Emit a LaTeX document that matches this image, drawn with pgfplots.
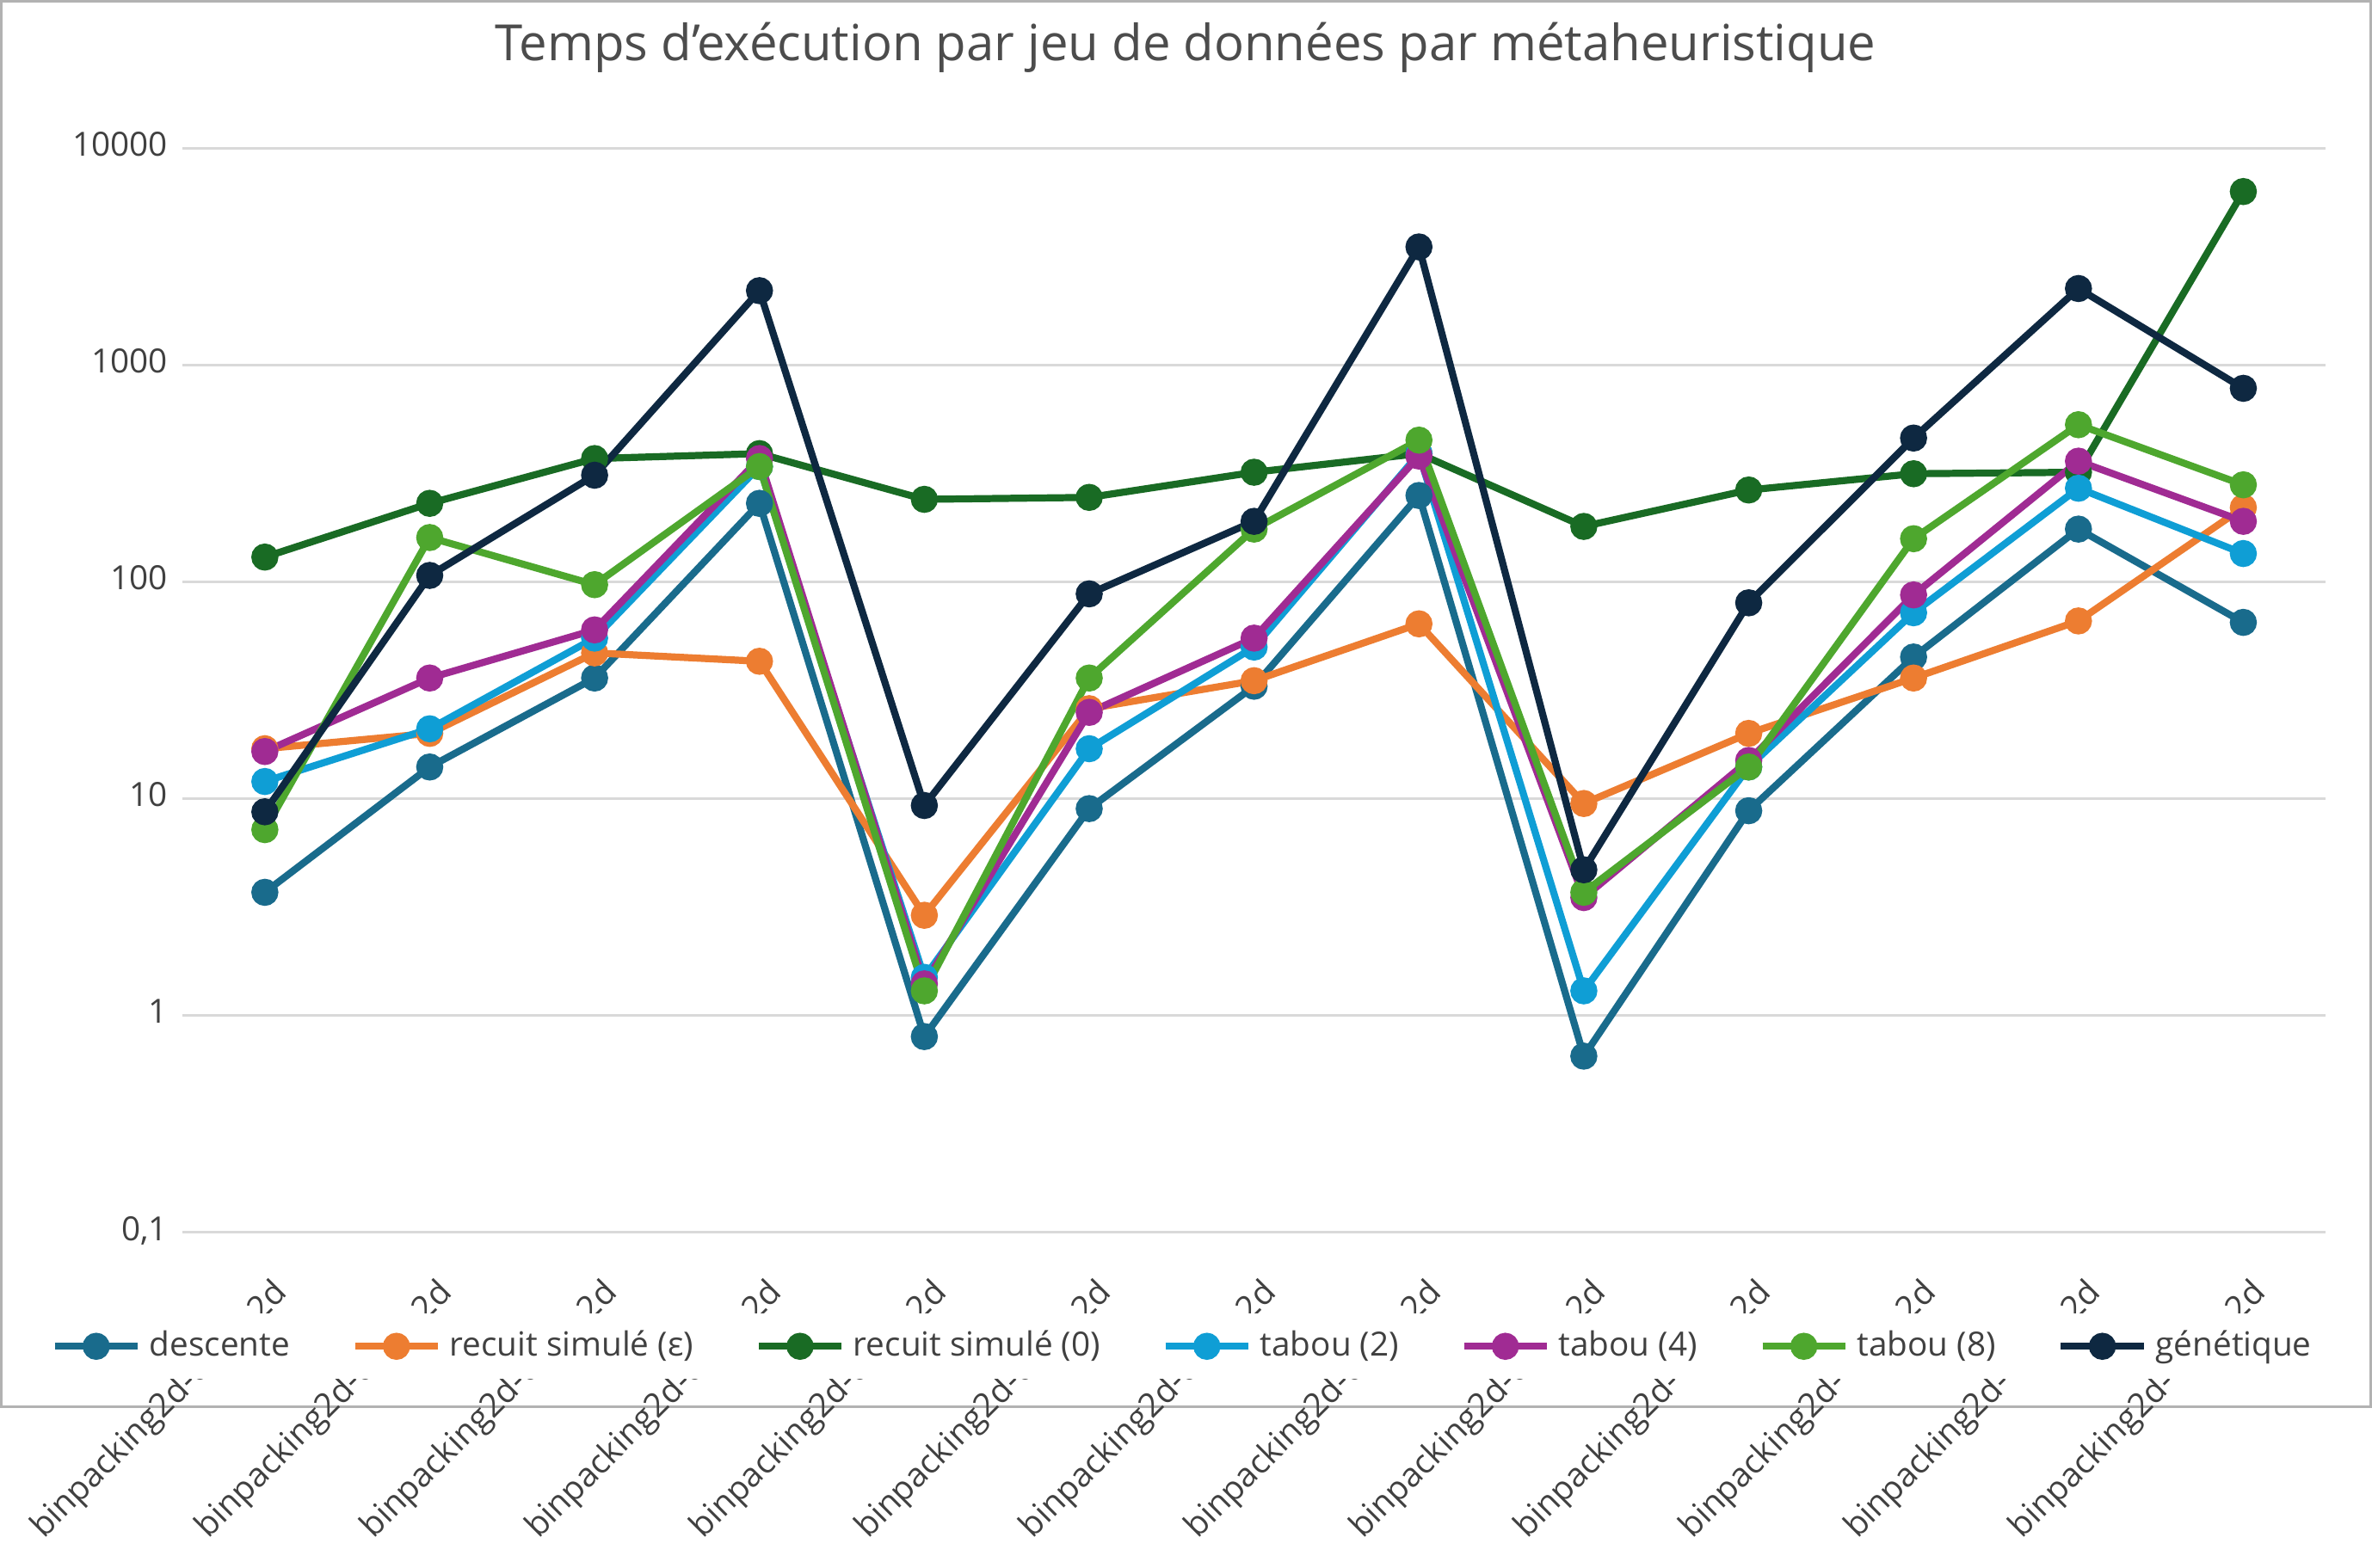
\documentclass[border=0pt]{standalone}
\usepackage{pgfplots}
\pgfplotsset{compat=1.18}
\usepackage{fontspec}
\setmainfont{Open Sans}
\definecolor{cA}{HTML}{196B8C}
\definecolor{cB}{HTML}{ED7D31}
\definecolor{cC}{HTML}{196B24}
\definecolor{cD}{HTML}{0F9ED5}
\definecolor{cE}{HTML}{A02B93}
\definecolor{cF}{HTML}{4EA72E}
\definecolor{cG}{HTML}{0E2841}
\begin{document}
\begin{tikzpicture}
\draw[gray!60, line width=0.6pt, fill=white] (-1.53,-1.47) rectangle (18.48,10.40);
\begin{axis}[
  at={(0,0)}, anchor=south west,
  scale only axis, width=18.1cm, height=9.16cm,
  ymode=log, ymin=0.1, ymax=10000,
  xmin=-0.5, xmax=12.5,
  axis line style={draw=none},
  ymajorgrids, grid style={gray!30, line width=0.6pt},
  ytick={0.1,1,10,100,1000,10000},
  yticklabels={{0,1},1,10,100,1000,10000},
  yticklabel style={font=\footnotesize, text=black!75},
  xtick={0,...,12},
  xticklabels={binpacking2d-01.bp2d,binpacking2d-02.bp2d,binpacking2d-03.bp2d,binpacking2d-04.bp2d,binpacking2d-05.bp2d,binpacking2d-06.bp2d,binpacking2d-07.bp2d,binpacking2d-08.bp2d,binpacking2d-09.bp2d,binpacking2d-10.bp2d,binpacking2d-11.bp2d,binpacking2d-12.bp2d,binpacking2d-13.bp2d},
  xticklabel style={rotate=45, anchor=north east, font=\footnotesize, text=black!75, yshift=-0.05cm},
  typeset ticklabels with strut,
  xtick pos=bottom, xtick align=outside,
  xtick style={draw=none}, ytick style={draw=none},
  clip=false,
  title={Temps d'exécution par jeu de données par métaheuristique},
  title style={font=\large, text=black!70, at={(0.468,1)}, yshift=0.3cm},
  legend columns=7,
  legend style={draw=none, at={(0.468,-0.105)}, anchor=center, font=\footnotesize, text=black!75,
    /tikz/every even column/.append style={column sep=0.45cm}},
  legend image code/.code={\draw[#1] (0cm,0cm) -- (0.7cm,0cm); \fill[#1] (0.35cm,0cm) circle (2.4pt);},
  every axis plot/.append style={line width=1.7pt, mark=*, mark size=2.4pt},
]
\addplot[cA] coordinates {(0,3.7)(1,14)(2,36)(3,230)(4,0.8)(5,9)(6,33)(7,250)(8,0.65)(9,8.8)(10,45)(11,175)(12,65)};
\addlegendentry{descente}
\addplot[cB] coordinates {(0,17)(1,20)(2,47)(3,43)(4,2.9)(5,26)(6,35)(7,64)(8,9.5)(9,20)(10,36)(11,66)(12,220)};
\addlegendentry{recuit simulé (ε)}
\addplot[cC] coordinates {(0,130)(1,230)(2,370)(3,390)(4,240)(5,245)(6,320)(7,390)(8,180)(9,265)(10,315)(11,320)(12,6300)};
\addlegendentry{recuit simulé (0)}
\addplot[cD] coordinates {(0,12)(1,21)(2,55)(3,340)(4,1.5)(5,17)(6,50)(7,390)(8,1.3)(9,14)(10,72)(11,270)(12,135)};
\addlegendentry{tabou (2)}
\addplot[cE] coordinates {(0,16.5)(1,36)(2,60)(3,370)(4,1.4)(5,25)(6,55)(7,380)(8,3.5)(9,15)(10,87)(11,360)(12,190)};
\addlegendentry{tabou (4)}
\addplot[cF] coordinates {(0,7.2)(1,160)(2,97)(3,340)(4,1.3)(5,36)(6,175)(7,450)(8,3.7)(9,14)(10,158)(11,530)(12,280)};
\addlegendentry{tabou (8)}
\addplot[cG] coordinates {(0,8.7)(1,107)(2,310)(3,2200)(4,9.3)(5,88)(6,190)(7,3500)(8,4.7)(9,80)(10,460)(11,2250)(12,780)};
\addlegendentry{génétique}
\end{axis}
\end{tikzpicture}
\end{document}
